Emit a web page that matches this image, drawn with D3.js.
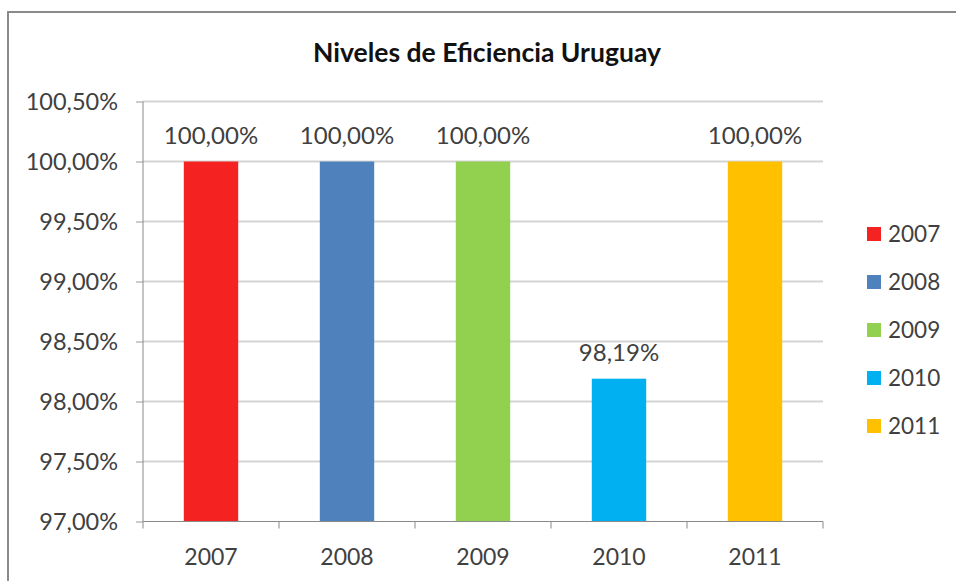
<!DOCTYPE html>
<html>
<head>
<meta charset="utf-8">
<script src="https://cdn.jsdelivr.net/npm/d3@7"></script>
<style>
  body { margin: 0; background: #fff; }
  text { font-family: Lato, "Noto Sans", sans-serif; }
</style>
</head>
<body>
<script>
// data
var years = ["2007", "2008", "2009", "2010", "2011"];
var values = [100.00, 100.00, 100.00, 98.19, 100.00];
var colors = ["#f52222", "#4f81bd", "#92d050", "#00b0f0", "#ffc000"];
var yTicks = [97, 97.5, 98, 98.5, 99, 99.5, 100, 100.5];

var fmt = function (v) { return d3.format(".2f")(v).replace(".", ",") + "%"; };

var svg = d3.select("body").append("svg")
    .attr("width", 956)
    .attr("height", 581);

// outer chart frame (cut off at right and bottom)
svg.append("rect")
    .attr("x", 8).attr("y", 12)
    .attr("width", 970).attr("height", 620)
    .attr("fill", "#fff")
    .attr("stroke", "#8a8a8a")
    .attr("stroke-width", 2);

svg.append("text")
    .attr("x", 487).attr("y", 62)
    .attr("text-anchor", "middle")
    .attr("font-size", 26.5)
    .attr("font-weight", "bold")
    .attr("fill", "#111")
    .text("Niveles de Eficiencia Uruguay");

var plotLeft = 143, plotRight = 823, plotTop = 101.5, plotBottom = 521.5;

var x = d3.scaleBand()
    .domain(years)
    .range([plotLeft, plotRight])
    .paddingInner(0.6)
    .paddingOuter(0.3);

var y = d3.scaleLinear()
    .domain([97, 100.5])
    .range([plotBottom, plotTop]);

// gridlines
svg.append("g").selectAll("line")
    .data(yTicks.filter(function (d) { return d > 97; }))
    .enter().append("line")
    .attr("x1", plotLeft).attr("x2", plotRight)
    .attr("y1", function (d) { return y(d); })
    .attr("y2", function (d) { return y(d); })
    .attr("stroke", "#d4d4d4")
    .attr("stroke-width", 2);

// y ticks
var yAxis = svg.append("g")
    .attr("transform", "translate(" + plotLeft + ",0)")
    .call(d3.axisLeft(y).tickValues(yTicks).tickSize(7).tickFormat(fmt));
yAxis.select(".domain").remove();
yAxis.selectAll(".tick line").attr("stroke", "#9a9a9a");
yAxis.selectAll(".tick text")
    .attr("x", -25)
    .attr("font-size", 23.5)
    .attr("fill", "#404040")
    .attr("font-family", "Lato, 'Noto Sans', sans-serif");

// y axis line
svg.append("line")
    .attr("x1", plotLeft).attr("x2", plotLeft)
    .attr("y1", plotTop).attr("y2", plotBottom)
    .attr("stroke", "#8a8a8a");

// bars
svg.append("g").selectAll("rect")
    .data(values)
    .enter().append("rect")
    .attr("x", function (d, i) { return x(years[i]); })
    .attr("y", function (d) { return y(d); })
    .attr("width", x.bandwidth())
    .attr("height", function (d) { return plotBottom - y(d); })
    .attr("fill", function (d, i) { return colors[i]; });

// data labels
svg.append("g").selectAll("text")
    .data(values)
    .enter().append("text")
    .attr("x", function (d, i) { return x(years[i]) + x.bandwidth() / 2; })
    .attr("y", function (d) { return y(d) - 18; })
    .attr("text-anchor", "middle")
    .attr("font-size", 24)
    .attr("fill", "#404040")
    .text(fmt);

// x axis with ticks at category boundaries
svg.append("line")
    .attr("x1", plotLeft).attr("x2", plotRight)
    .attr("y1", plotBottom).attr("y2", plotBottom)
    .attr("stroke", "#8a8a8a");

var bounds = years.map(function (d) { return x(d) - x.step() * 0.3; }).concat([plotRight]);
svg.append("g").selectAll("line")
    .data(bounds)
    .enter().append("line")
    .attr("x1", function (d) { return d; })
    .attr("x2", function (d) { return d; })
    .attr("y1", plotBottom).attr("y2", plotBottom + 7)
    .attr("stroke", "#8a8a8a");

svg.append("g").selectAll("text")
    .data(years)
    .enter().append("text")
    .attr("x", function (d) { return x(d) + x.bandwidth() / 2; })
    .attr("y", 565)
    .attr("text-anchor", "middle")
    .attr("font-size", 23)
    .attr("fill", "#404040")
    .text(function (d) { return d; });

// legend
var legend = svg.append("g").selectAll("g")
    .data(years)
    .enter().append("g")
    .attr("transform", function (d, i) { return "translate(867," + (227 + i * 48) + ")"; });

legend.append("rect")
    .attr("width", 14).attr("height", 14)
    .attr("fill", function (d, i) { return colors[i]; });

legend.append("text")
    .attr("x", 21).attr("y", 15)
    .attr("font-size", 22.5)
    .attr("fill", "#404040")
    .text(function (d) { return d; });
</script>
</body>
</html>
